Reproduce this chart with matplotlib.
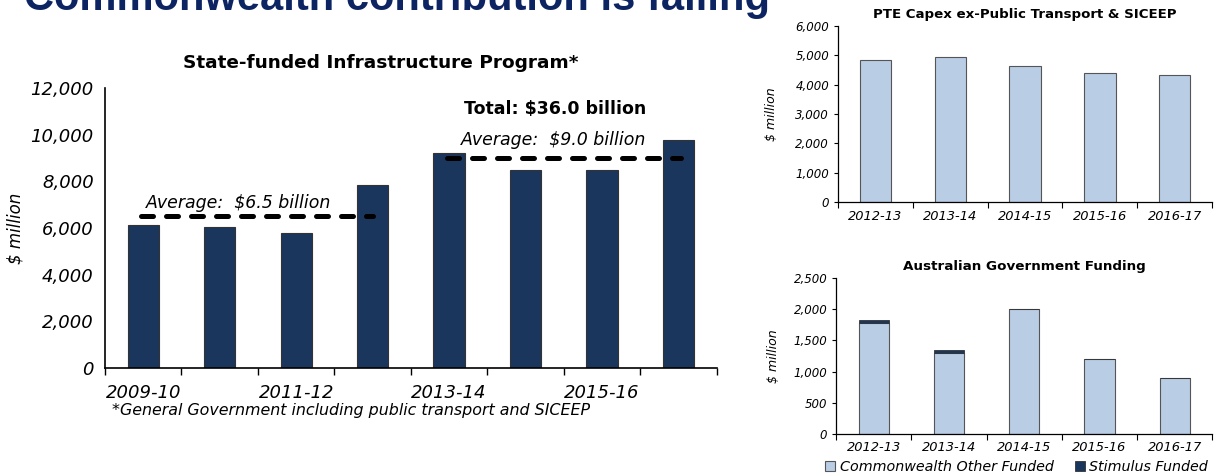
import matplotlib.pyplot as plt
import numpy as np

# State-funded infrastructure program ($ million)
years = ['2009-10', '2010-11', '2011-12', '2012-13',
         '2013-14', '2014-15', '2015-16', '2016-17']
state_funded = [6130, 6040, 5780, 7850, 9230, 8490, 8490, 9790]
avg_early = 6500
avg_late = 9000

# PTE capex ex-public transport & SICEEP ($ million)
fwd_years = ['2012-13', '2013-14', '2014-15', '2015-16', '2016-17']
pte_capex = [4830, 4940, 4630, 4390, 4320]

# Australian Government funding ($ million)
cw_other = [1780, 1300, 2005, 1197, 894]
stimulus = [44, 50, 0, 0, 0]

NAVY = '#1b365d'
LIGHT = '#b9cde5'
plt.rcParams['font.family'] = 'DejaVu Sans'

fig = plt.figure(figsize=(12.19, 4.73), dpi=100)

fig.text(0.02, 0.979, 'Commonwealth contribution is falling', fontsize=30,
         fontweight='bold', color='#0c2461', family='Liberation Sans', va='baseline')

# ---- left: state-funded program
ax = fig.add_axes([0.0861, 0.222, 0.502, 0.592])
x = np.arange(len(years))
ax.bar(x, state_funded, width=0.41, color=NAVY, edgecolor='#333333', linewidth=0.8)
dash = dict(color='black', lw=3.6, ls=(0, (2.4, 2.6)), dash_capstyle='round')
ax.plot([-0.03, 3.0], [avg_early, avg_early], **dash)
ax.plot([3.97, 7.03], [avg_late, avg_late], **dash)
ax.text(1.25, 6850, 'Average:  $6.5 billion', style='italic', fontsize=12.5, ha='center')
ax.text(5.37, 9550, 'Average:  $9.0 billion', style='italic', fontsize=12.5, ha='center')
ax.text(5.38, 10900, 'Total: $36.0 billion', fontweight='bold', fontsize=12.5, ha='center')
ax.set_xlim(-0.5, 7.5)
ax.set_ylim(0, 12000)
ax.set_yticks(range(0, 12001, 2000))
ax.set_yticklabels([f'{v:,}' for v in range(0, 12001, 2000)], style='italic', fontsize=13)
ax.set_xticks(np.arange(-0.5, 8, 1))
ax.set_xticklabels([])
ax.tick_params(axis='x', direction='out', length=5, width=1)
ax.tick_params(axis='y', direction='in', length=0, pad=8)
for i in range(0, 8, 2):
    ax.text(x[i], -700, years[i], ha='center', va='top', style='italic', fontsize=13)
ax.spines[['top', 'right']].set_visible(False)
ax.spines[['left', 'bottom']].set_linewidth(1.2)
ax.set_ylabel('$ million', style='italic', fontsize=12)
ax.yaxis.set_label_coords(-0.132, 0.5)
fig.text(0.3125, 0.866, 'State-funded Infrastructure Program*', fontweight='bold',
         fontsize=13.3, ha='center', va='center')
fig.text(0.092, 0.133, '*General Government including public transport and SICEEP',
         style='italic', fontsize=11.4, va='center')

# ---- top right: PTE capex
ax2 = fig.add_axes([0.6875, 0.573, 0.3068, 0.372])
x2 = np.arange(len(fwd_years))
ax2.bar(x2, pte_capex, width=0.42, color=LIGHT, edgecolor='#555555', linewidth=0.8)
ax2.set_xlim(-0.5, 4.5)
ax2.set_ylim(0, 6000)
ax2.set_yticks(range(0, 6001, 1000))
ax2.set_yticklabels([f'{v:,}' for v in range(0, 6001, 1000)], style='italic', fontsize=8.5)
ax2.set_xticks(np.arange(-0.5, 5, 1))
ax2.set_xticklabels([])
ax2.tick_params(axis='x', direction='out', length=4, width=0.8)
ax2.tick_params(axis='y', direction='out', length=3, width=0.8)
for i, yr in enumerate(fwd_years):
    ax2.text(x2[i], -280, yr, ha='center', va='top', style='italic', fontsize=9.4)
ax2.spines[['top', 'right']].set_visible(False)
ax2.spines[['left', 'bottom']].set_linewidth(0.9)
ax2.set_ylabel('$ million', style='italic', fontsize=9)
ax2.yaxis.set_label_coords(-0.16, 0.5)
ax2.set_title('PTE Capex ex-Public Transport & SICEEP', fontweight='bold', fontsize=9.6, pad=6)

# ---- bottom right: Australian Government funding
ax3 = fig.add_axes([0.686, 0.0825, 0.3085, 0.33])
ax3.bar(x2, cw_other, width=0.4, color=LIGHT, edgecolor='#555555', linewidth=0.8,
        label='Commonwealth Other Funded')
ax3.bar(x2, stimulus, bottom=cw_other, width=0.4, color=NAVY, edgecolor='#333333',
        linewidth=0.6, label='Stimulus Funded')
ax3.set_xlim(-0.5, 4.5)
ax3.set_ylim(0, 2500)
ax3.set_yticks(range(0, 2501, 500))
ax3.set_yticklabels([f'{v:,}' for v in range(0, 2501, 500)], style='italic', fontsize=8.5)
ax3.set_xticks(np.arange(-0.5, 5, 1))
ax3.set_xticklabels([])
ax3.tick_params(axis='x', direction='out', length=4, width=0.8)
ax3.tick_params(axis='y', direction='out', length=3, width=0.8)
for i, yr in enumerate(fwd_years):
    ax3.text(x2[i], -120, yr, ha='center', va='top', style='italic', fontsize=9.4)
ax3.spines[['top', 'right']].set_visible(False)
ax3.spines[['left', 'bottom']].set_linewidth(0.9)
ax3.set_ylabel('$ million', style='italic', fontsize=9)
ax3.yaxis.set_label_coords(-0.149, 0.5)
ax3.set_title('Australian Government Funding', fontweight='bold', fontsize=9.7, pad=6)
leg = ax3.legend(loc='center', bbox_to_anchor=(0.48, -0.21), ncol=2, frameon=False,
                 fontsize=10.3, handlelength=0.7, handleheight=0.7, handletextpad=0.3,
                 columnspacing=1.5, borderaxespad=0, borderpad=0)
for t in leg.get_texts():
    t.set_style('italic')

fig.savefig('out.png', dpi=100)
